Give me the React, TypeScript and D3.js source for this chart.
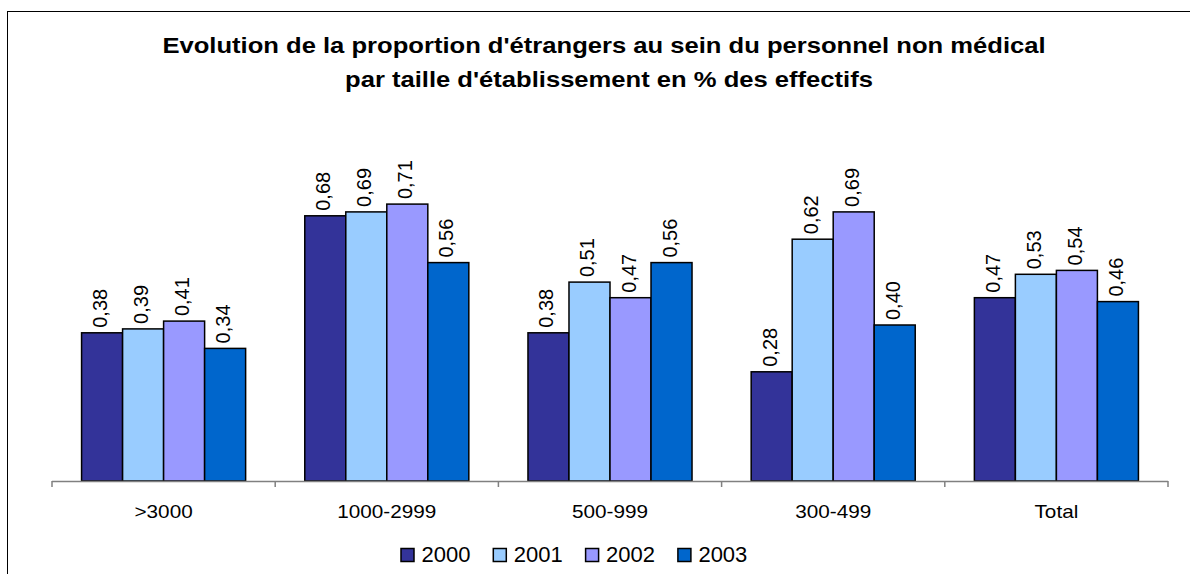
import { useEffect, useRef } from 'react';
import * as d3 from 'd3';

const categories = ['>3000', '1000-2999', '500-999', '300-499', 'Total'];
const years = ['2000', '2001', '2002', '2003'];
const values2000 = [0.38, 0.68, 0.38, 0.28, 0.47];
const values2001 = [0.39, 0.69, 0.51, 0.62, 0.53];
const values2002 = [0.41, 0.71, 0.47, 0.69, 0.54];
const values2003 = [0.34, 0.56, 0.56, 0.40, 0.46];
const seriesValues = [values2000, values2001, values2002, values2003];
const colors = ['#333399', '#99CCFF', '#9999FF', '#0066CC'];
const titleLines = [
  "Evolution de la proportion d'étrangers au sein du personnel non médical",
  "par taille d'établissement en % des effectifs",
];

const FONT = "'Liberation Sans', Arial, Helvetica, sans-serif";

// widen a text node horizontally (the original renders its Arial a bit wider)
function stretch(sel: d3.Selection<SVGTextElement, any, any, any>, factor: number) {
  sel.each(function () {
    const len = this.getComputedTextLength();
    d3.select(this)
      .attr('textLength', len * factor)
      .attr('lengthAdjust', 'spacingAndGlyphs');
  });
}

export default function App() {
  const ref = useRef<SVGSVGElement>(null);

  useEffect(() => {
    if (!ref.current) return;
    const svg = d3.select(ref.current);
    svg.selectAll('*').remove();

    const width = 1190;
    const height = 574;

    // frame (runs off the right and bottom edge)
    svg.append('rect')
      .attr('x', 7.5).attr('y', 11.5)
      .attr('width', width).attr('height', height)
      .attr('fill', 'white')
      .attr('stroke', '#000').attr('stroke-width', 1);

    // title
    const titleX = [604, 609];
    titleLines.forEach((t, i) => {
      const txt = svg.append('text')
        .attr('x', titleX[i])
        .attr('y', 53 + i * 34)
        .attr('text-anchor', 'middle')
        .attr('font-family', FONT)
        .attr('font-weight', 'bold')
        .attr('font-size', 21.5)
        .attr('fill', '#000')
        .text(t);
      stretch(txt as any, 1.19);
    });

    const plot = { left: 52, right: 1168, top: 91, bottom: 481 };

    const x = d3.scaleBand<string>()
      .domain(categories)
      .range([plot.left, plot.right])
      .paddingInner(0.265)
      .paddingOuter(0.1325);

    const xs = d3.scaleBand<string>()
      .domain(years)
      .range([0, x.bandwidth()]);

    const y = d3.scaleLinear().domain([0, 1]).range([plot.bottom, plot.top]);

    // bars
    const groups = svg.append('g').selectAll('g')
      .data(categories)
      .join('g')
      .attr('transform', (c) => `translate(${x(c)},0)`);

    groups.each(function (c, ci) {
      const g = d3.select(this);
      years.forEach((yr, si) => {
        const v = seriesValues[si][ci];
        g.append('rect')
          .attr('x', xs(yr)!)
          .attr('y', y(v))
          .attr('width', xs.bandwidth())
          .attr('height', y(0) - y(v))
          .attr('fill', colors[si])
          .attr('stroke', '#000')
          .attr('stroke-width', 1.5);
        const cx = xs(yr)! + xs.bandwidth() / 2;
        g.append('text')
          .attr('transform', `translate(${cx + 5},${y(v) - 5}) rotate(-90)`)
          .attr('font-family', FONT)
          .attr('font-size', 20)
          .attr('fill', '#000')
          .text(d3.format('.2f')(v).replace('.', ','));
      });
    });

    // axis
    const axis = svg.append('g');
    axis.append('line')
      .attr('x1', plot.left).attr('x2', plot.right)
      .attr('y1', plot.bottom + 0.5).attr('y2', plot.bottom + 0.5)
      .attr('stroke', '#808080').attr('stroke-width', 1.5);
    const step = x.step();
    d3.range(categories.length + 1).forEach((i) => {
      const tx = plot.left + i * step;
      axis.append('line')
        .attr('x1', tx).attr('x2', tx)
        .attr('y1', plot.bottom).attr('y2', plot.bottom + 6)
        .attr('stroke', '#808080').attr('stroke-width', 1.5);
    });
    categories.forEach((c) => {
      const txt = axis.append('text')
        .attr('x', x(c)! + x.bandwidth() / 2)
        .attr('y', 518)
        .attr('text-anchor', 'middle')
        .attr('font-family', FONT)
        .attr('font-size', 19)
        .attr('fill', '#000')
        .text(c);
      stretch(txt as any, 1.09);
    });

    // legend
    const legend = svg.append('g').attr('transform', 'translate(401,0)');
    years.forEach((yr, i) => {
      const lx = i * 92.3;
      legend.append('rect')
        .attr('x', lx).attr('y', 548.5)
        .attr('width', 13).attr('height', 13)
        .attr('fill', colors[i])
        .attr('stroke', '#000').attr('stroke-width', 1.5);
      legend.append('text')
        .attr('x', lx + 20.5)
        .attr('y', 561.5)
        .attr('font-family', FONT)
        .attr('font-size', 22)
        .attr('fill', '#000')
        .text(yr);
    });
  }, []);

  return (
    <svg ref={ref} width={1190} height={574} style={{ position: 'absolute', left: 0, top: 0, display: 'block' }} />
  );
}
